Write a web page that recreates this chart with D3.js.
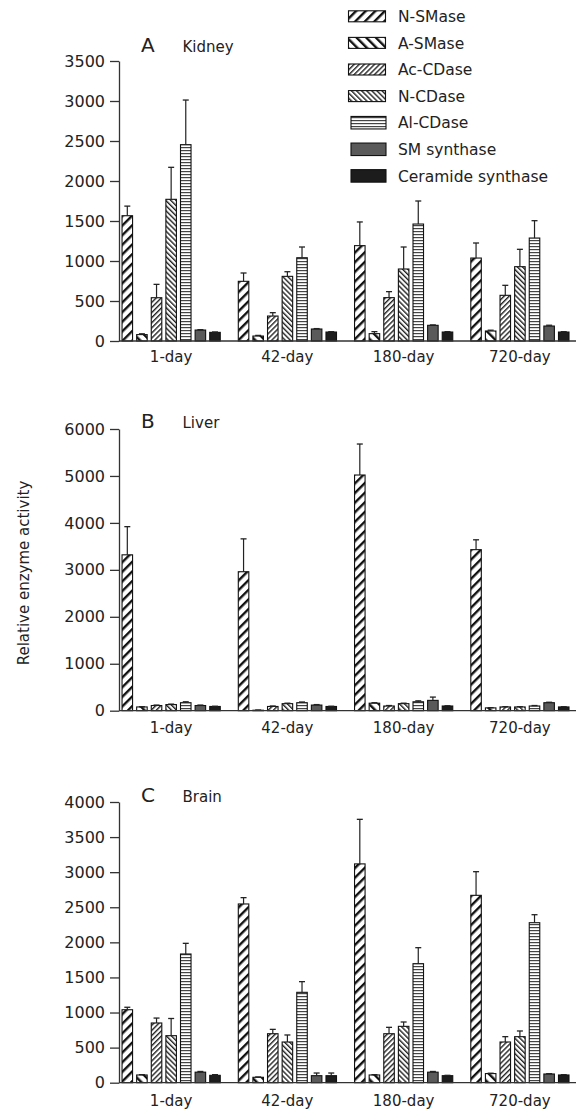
<!DOCTYPE html>
<html><head><meta charset="utf-8">
<script src="https://cdn.jsdelivr.net/npm/d3@7"></script>
<style>body{margin:0;background:#fff}svg{display:block}</style>
</head><body>
<script>
// ---------- data ----------
const groups = ["1-day", "42-day", "180-day", "720-day"];
const series = ["N-SMase", "A-SMase", "Ac-CDase", "N-CDase", "Al-CDase", "SM synthase", "Ceramide synthase"];

// Kidney (rows = series, cols = groups)
const kidneyMean = [
  [1566, 746, 1192, 1037],
  [80, 62, 92, 125],
  [541, 312, 542, 571],
  [1771, 808, 900, 929],
  [2454, 1041, 1462, 1287],
  [137, 150, 196, 187],
  [108, 112, 112, 112]
];
const kidneyErr = [
  [120, 104, 296, 188],
  [10, 8, 25, 10],
  [167, 42, 75, 125],
  [400, 58, 275, 217],
  [558, 134, 288, 217],
  [5, 5, 5, 10],
  [5, 5, 5, 5]
];
// Liver
const liverMean = [
  [3320, 2960, 5020, 3430],
  [80, 10, 160, 60],
  [110, 90, 100, 80],
  [130, 150, 150, 80],
  [170, 170, 190, 100],
  [110, 120, 220, 170],
  [90, 90, 100, 80]
];
const liverErr = [
  [600, 700, 660, 210],
  [5, 5, 10, 5],
  [10, 10, 10, 5],
  [10, 10, 10, 5],
  [20, 15, 20, 10],
  [10, 10, 70, 10],
  [5, 5, 5, 5]
];
// Brain
const brainMean = [
  [1040, 2547, 3118, 2670],
  [110, 77, 110, 130],
  [851, 698, 698, 580],
  [670, 580, 803, 656],
  [1834, 1288, 1696, 2280],
  [150, 100, 150, 124],
  [105, 100, 100, 110]
];
const brainErr = [
  [35, 90, 635, 337],
  [5, 5, 5, 5],
  [70, 62, 91, 76],
  [245, 100, 62, 81],
  [152, 152, 228, 114],
  [10, 38, 10, 5],
  [10, 38, 5, 5]
];
const kidneyTicks = [0, 500, 1000, 1500, 2000, 2500, 3000, 3500];
const liverTicks = [0, 1000, 2000, 3000, 4000, 5000, 6000];
const brainTicks = [0, 500, 1000, 1500, 2000, 2500, 3000, 3500, 4000];

// ---------- drawing ----------
const W = 578, H = 1109;
const FONT = "'DejaVu Sans', sans-serif";
const TXT = "#222";
const svg = d3.select("body").append("svg").attr("width", W).attr("height", H);
const defs = svg.append("defs");

function stripe(id, angle, d, lw, color) {
  const p = defs.append("pattern").attr("id", id).attr("patternUnits", "userSpaceOnUse")
    .attr("width", d).attr("height", d).attr("patternTransform", `rotate(${angle})`);
  p.append("rect").attr("width", d).attr("height", d).attr("fill", "#fff");
  p.append("rect").attr("width", lw).attr("height", d).attr("fill", color);
}
stripe("p0", 45, 6.8, 2.4, "#111");
stripe("p1", -45, 6.8, 2.4, "#111");
stripe("p2", 45, 3.6, 1.4, "#222");
stripe("p3", -45, 3.6, 1.4, "#222");
const ph = defs.append("pattern").attr("id", "p4").attr("patternUnits", "userSpaceOnUse")
  .attr("width", 4).attr("height", 3);
ph.append("rect").attr("width", 4).attr("height", 3).attr("fill", "#fff");
ph.append("rect").attr("width", 4).attr("height", 1.2).attr("fill", "#444");
const fills = ["url(#p0)", "url(#p1)", "url(#p2)", "url(#p3)", "url(#p4)", "#5a5a5a", "#1c1c1c"];

const x = d3.scaleBand().domain(groups).range([113, 578]);
const xs = d3.scaleBand().domain(series).range([7, 109.3]).paddingInner(0.28).paddingOuter(0.14);

const panels = [
  {letter: "A", name: "Kidney", mean: kidneyMean, err: kidneyErr, ticks: kidneyTicks, bottom: 341, top: 61, titleY: 52, labelOff: 21},
  {letter: "B", name: "Liver", mean: liverMean, err: liverErr, ticks: liverTicks, bottom: 710.7, top: 429, titleY: 428, labelOff: 22},
  {letter: "C", name: "Brain", mean: brainMean, err: brainErr, ticks: brainTicks, bottom: 1082.7, top: 802, titleY: 802, labelOff: 23.5}
];

const axisX = 119;
panels.forEach(p => {
  const max = p.ticks[p.ticks.length - 1];
  const y = d3.scaleLinear().domain([0, max]).range([p.bottom, p.top]);
  const g = svg.append("g");

  // bars
  series.forEach((s, si) => {
    const data = groups.map((gr, gi) => ({g: gr, v: p.mean[si][gi], e: p.err[si][gi]}));
    const sg = g.append("g");
    sg.selectAll("rect").data(data).join("rect")
      .attr("x", d => x(d.g) + xs(s))
      .attr("width", xs.bandwidth())
      .attr("y", d => y(d.v))
      .attr("height", d => y(0) - y(d.v))
      .attr("fill", fills[si])
      .attr("stroke", "#111").attr("stroke-width", 1.1);
    // error bars
    const cx = d => x(d.g) + xs(s) + xs.bandwidth() / 2;
    sg.selectAll("line.v").data(data).join("line").attr("class", "v")
      .attr("x1", cx).attr("x2", cx)
      .attr("y1", d => y(d.v)).attr("y2", d => y(d.v + d.e))
      .attr("stroke", "#222").attr("stroke-width", 1.2);
    sg.selectAll("line.c").data(data).join("line").attr("class", "c")
      .attr("x1", d => cx(d) - 3).attr("x2", d => cx(d) + 3)
      .attr("y1", d => y(d.v + d.e)).attr("y2", d => y(d.v + d.e))
      .attr("stroke", "#222").attr("stroke-width", 1.3);
  });

  // y axis
  const ya = g.append("g").attr("transform", `translate(${axisX},0)`)
    .call(d3.axisLeft(y).tickValues(p.ticks).tickSize(9).tickSizeOuter(0).tickPadding(5).tickFormat(d3.format("d")));
  ya.select(".domain").attr("stroke", "#333").attr("stroke-width", 1.3);
  ya.selectAll(".tick line").attr("stroke", "#333").attr("stroke-width", 1.3);
  ya.selectAll("text").attr("font-family", FONT).attr("font-size", 16).attr("fill", TXT);

  // x axis
  g.append("line").attr("x1", axisX).attr("x2", 576).attr("y1", y(0)).attr("y2", y(0))
    .attr("stroke", "#333").attr("stroke-width", 1.3);
  const xa = g.append("g").attr("transform", `translate(0,${y(0)})`)
    .call(d3.axisBottom(x).tickSize(0).tickPadding(p.labelOff - 10.6));
  xa.select(".domain").remove();
  xa.selectAll("text").attr("font-family", FONT).attr("font-size", 15).attr("fill", TXT);

  // title
  g.append("text").attr("x", 141).attr("y", p.titleY).text(p.letter)
    .attr("font-family", FONT).attr("font-size", 20).attr("fill", TXT);
  g.append("text").attr("x", 182.5).attr("y", p.titleY).text(p.name)
    .attr("font-family", FONT).attr("font-size", 15).attr("fill", TXT);
});

// y label
svg.append("text").attr("transform", "translate(24,573) rotate(-90)")
  .attr("text-anchor", "middle").attr("dominant-baseline", "central")
  .attr("font-family", FONT).attr("font-size", 15).attr("fill", TXT)
  .text("Relative enzyme activity");

// legend
const leg = svg.append("g");
series.forEach((s, i) => {
  const cy = 16.3 + 26.6 * i;
  const h = i < 4 ? 11 : 12.5;
  const lx = i < 4 ? 348.5 : 351;
  const w = i < 4 ? 37 : 35;
  leg.append("rect").attr("x", lx).attr("y", cy - h / 2).attr("width", w).attr("height", h)
    .attr("fill", fills[i]).attr("stroke", "#111").attr("stroke-width", 1.1);
  leg.append("text").attr("x", 398).attr("y", cy + 5.6).text(s)
    .attr("font-family", FONT).attr("font-size", 15.5).attr("fill", TXT);
});
</script>
</body></html>
